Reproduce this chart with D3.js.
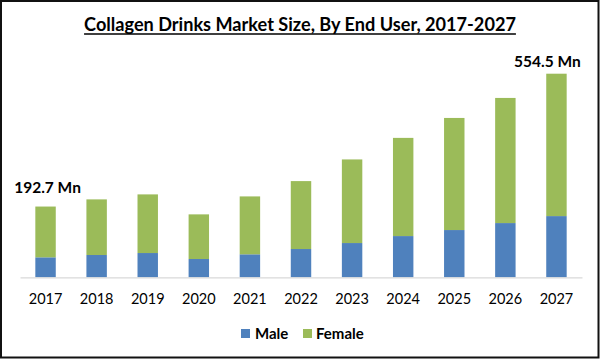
<!DOCTYPE html>
<html>
<head>
<meta charset="utf-8">
<script src="https://cdn.jsdelivr.net/npm/d3@7"></script>
<style>
  html, body { margin: 0; padding: 0; background: #fff; }
  svg { display: block; }
  text { font-family: "Lato", "Liberation Sans", sans-serif; fill: #000; }
</style>
</head>
<body>
<svg id="chart" width="600" height="359"></svg>
<script>
const years = ["2017","2018","2019","2020","2021","2022","2023","2024","2025","2026","2027"];
const male   = [54.4, 60.7, 66.1, 49.8, 62.6, 77.0, 93.3, 112.3, 128.7, 147.7, 166.7];
const female = [138.3, 151.5, 159.7, 121.6, 157.7, 185.0, 227.7, 267.4, 305.3, 340.8, 387.8];
const seriesNames = ["Male", "Female"];
const annotations = [
  { year: "2017", text: "192.7 Mn" },
  { year: "2027", text: "554.5 Mn" }
];
const title = "Collagen Drinks Market Size, By End User, 2017-2027";

const colors = { Male: "#4F81BD", Female: "#9BBB59" };

const svg = d3.select("#chart");

// frame
svg.append("rect")
  .attr("x", 1).attr("y", 1).attr("width", 597.5).attr("height", 356.5)
  .attr("fill", "#fff").attr("stroke", "#111").attr("stroke-width", 2);

const table = years.map((y, i) => ({ year: y, Male: male[i], Female: female[i] }));
const stack = d3.stack().keys(seriesNames)(table);

const x = d3.scaleBand().domain(years).range([20, 582]).paddingInner(0.6).paddingOuter(0.3);
const y = d3.scaleLinear().domain([0, 554.5]).range([277.3, 73.7]);

// bars
svg.append("g").selectAll("g")
  .data(stack).join("g")
  .attr("fill", d => colors[d.key])
  .selectAll("rect")
  .data(d => d).join("rect")
  .attr("x", d => x(d.data.year))
  .attr("width", x.bandwidth())
  .attr("y", d => y(d[1]))
  .attr("height", d => y(d[0]) - y(d[1]));

// x axis
const xAxis = svg.append("g")
  .attr("transform", `translate(0,${y(0)})`)
  .call(d3.axisBottom(x).tickSize(0).tickPadding(16));
xAxis.select(".domain").attr("stroke", "#d9d9d9").attr("stroke-width", 1.2);
xAxis.selectAll("text")
  .style("font-family", "Lato, 'Liberation Sans', sans-serif")
  .style("font-size", "14.5px").attr("fill", "#000");

// annotations
const totals = years.map((yr, i) => male[i] + female[i]);
annotations.forEach((a, k) => {
  const i = years.indexOf(a.year);
  const cx = x(a.year) + x.bandwidth() / 2;
  svg.append("text")
    .attr("x", k === 0 ? cx + 2 : cx - 9)
    .attr("y", y(totals[i]) - (k === 0 ? 14 : 7))
    .attr("text-anchor", "middle")
    .style("font-size", "15.5px").style("font-weight", "bold")
    .text(a.text);
});

// title, fitted to width
const t = svg.append("text")
  .attr("x", 300).attr("y", 30.5)
  .attr("text-anchor", "middle")
  .style("font-size", "17px").style("font-weight", "bold")
  .text(title);
const w = t.node().getComputedTextLength();
const fs = 17 * 432 / w;
t.style("font-size", fs + "px");
const w2 = t.node().getComputedTextLength();
svg.append("line")
  .attr("x1", 300 - w2 / 2).attr("x2", 300 + w2 / 2)
  .attr("y1", 34).attr("y2", 34)
  .attr("stroke", "#000").attr("stroke-width", 1.3);

// legend
const legendItems = [
  { key: "Male", sx: 241, tx: 255 },
  { key: "Female", sx: 303, tx: 316 }
];
const lg = svg.append("g");
legendItems.forEach(it => {
  lg.append("rect").attr("x", it.sx).attr("y", 329).attr("width", 9).attr("height", 9)
    .attr("fill", colors[it.key]);
  lg.append("text").attr("x", it.tx).attr("y", 338.5)
    .style("font-size", "15px").style("font-weight", "bold")
    .text(it.key);
});
</script>
</body>
</html>
